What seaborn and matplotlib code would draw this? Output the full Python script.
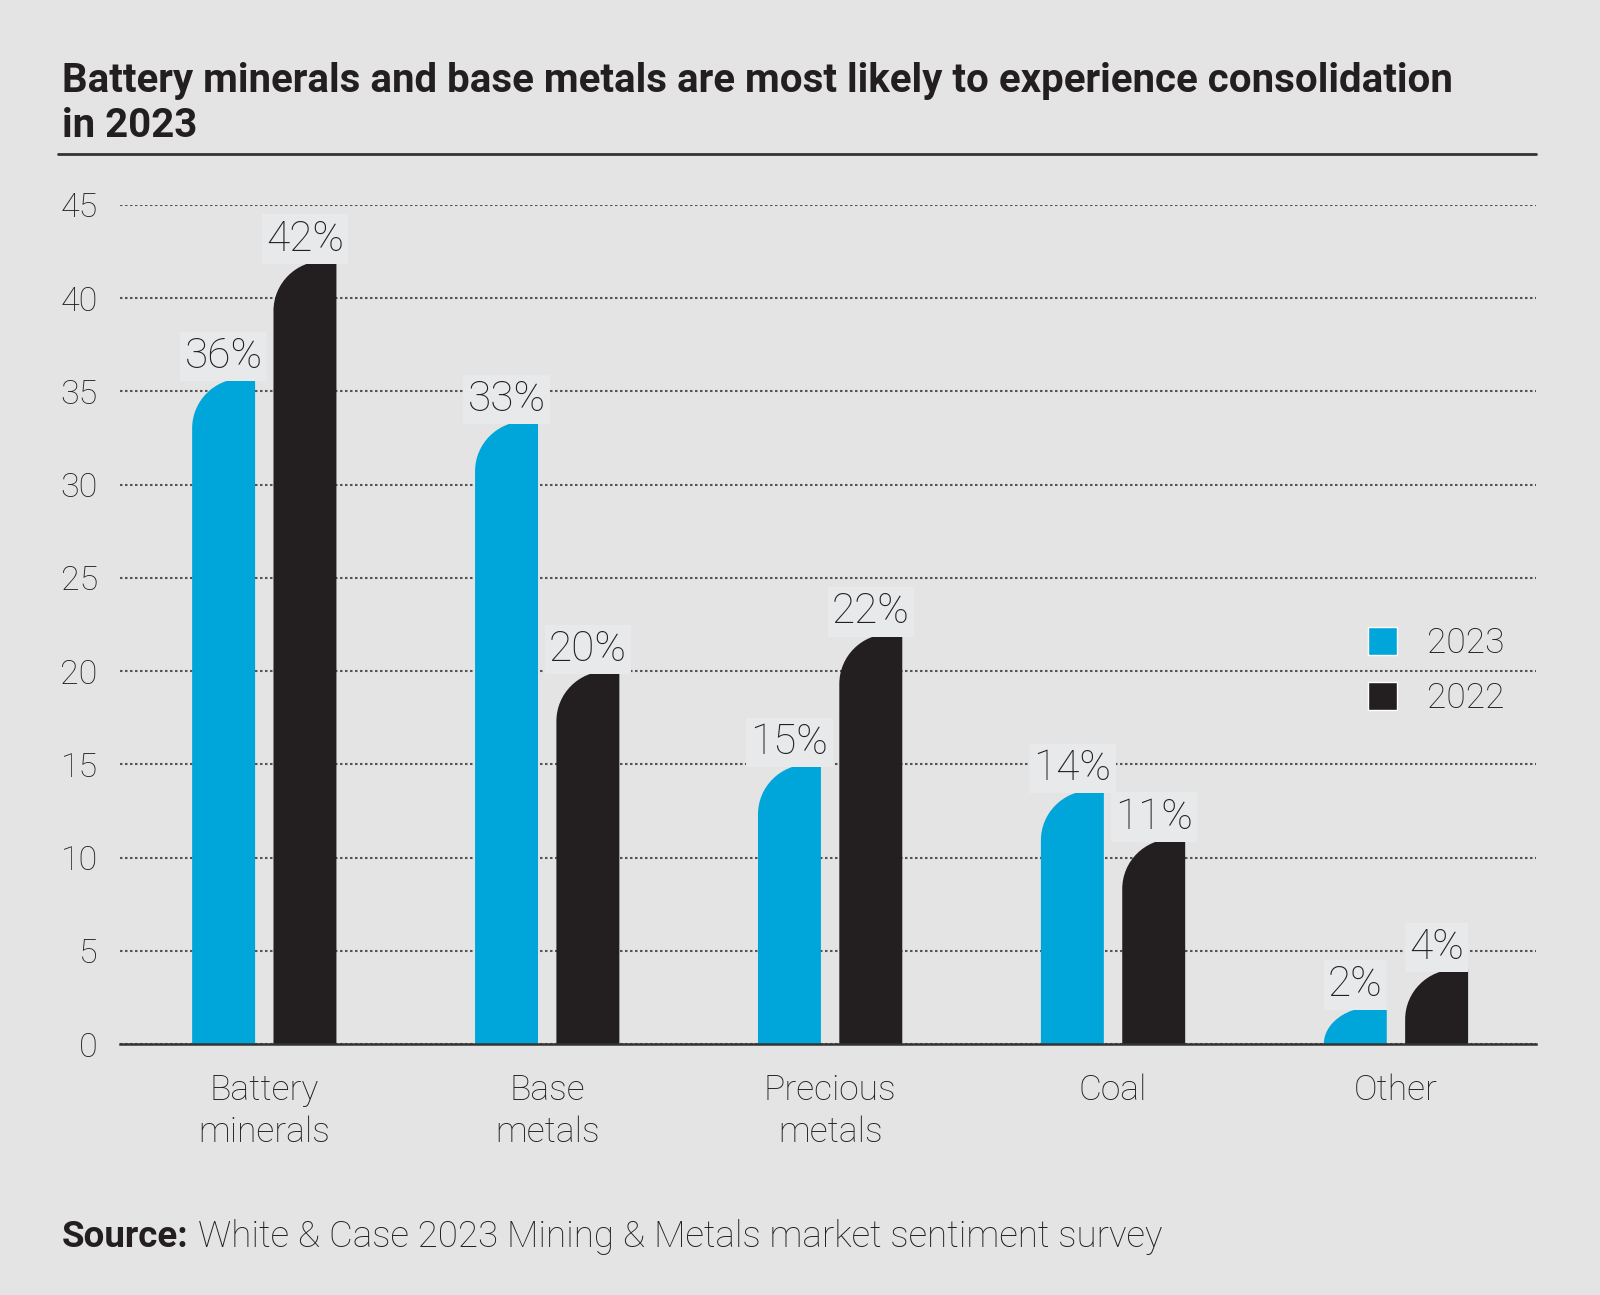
import numpy as np
import pandas as pd
import seaborn as sns
import matplotlib.pyplot as plt
from matplotlib.path import Path
from matplotlib.patches import PathPatch
from matplotlib.lines import Line2D

categories = ["Battery\nminerals", "Base\nmetals", "Precious\nmetals", "Coal", "Other"]
years = ["2023", "2022"]
values_2023 = [35.7, 33.4, 15, 13.6, 2]
values_2022 = [42, 20, 22, 11, 4]

BG = "#e4e4e4"
BOX = "#e8e9eb"
INK = "#231f20"
palette = {"2023": "#00a6d9", "2022": "#231f20"}

df = pd.DataFrame({
    "category": categories * 2,
    "year": ["2023"] * len(categories) + ["2022"] * len(categories),
    "value": values_2023 + values_2022,
})

sns.set_theme(style="white")
plt.rcParams["font.family"] = ["Roboto", "DejaVu Sans"]

fig = plt.figure(figsize=(16, 12.95), dpi=100, facecolor=BG)
ax = fig.add_axes([0.075, 0.1938, 0.885, 0.6479])
ax.set_facecolor(BG)

sns.barplot(data=df, x="category", y="value", hue="year", hue_order=years,
            order=categories, palette=palette, width=0.575, gap=0.226,
            saturation=1, ax=ax, zorder=3)

ax.set_ylim(0, 45)
ax.set_xlim(-0.51, 4.495)

# rounded top-left corner on every bar
px_per_unit = (ax.get_window_extent().height) / 45
ry_max = 50 / px_per_unit
bars = [p for p in ax.patches if p.get_height() > 0]
for p in bars:
    x, y, w, h = p.get_x(), p.get_y(), p.get_width(), p.get_height()
    rx = 0.8 * w
    ry = min(ry_max, h)
    k = 0.5523
    verts = [(x, y), (x, y + h - ry),
             (x, y + h - ry + k * ry), (x + rx - k * rx, y + h), (x + rx, y + h),
             (x + w, y + h), (x + w, y), (x, y)]
    codes = [Path.MOVETO, Path.LINETO, Path.CURVE4, Path.CURVE4, Path.CURVE4,
             Path.LINETO, Path.LINETO, Path.CLOSEPOLY]
    ax.add_patch(PathPatch(Path(verts, codes), facecolor=p.get_facecolor(),
                           edgecolor="none", zorder=3))
    p.set_visible(False)
    ax.annotate(f"{round(h):d}%", (x + w / 2, y + h), xytext=(0, 1),
                textcoords="offset points", ha="center", va="bottom",
                fontsize=30.5, fontweight="light", color=INK, zorder=5,
                bbox=dict(boxstyle="square,pad=0.1", fc=BOX, ec="none"))

ax.set_xlabel("")
ax.set_ylabel("")
ax.set_yticks(range(0, 50, 5))
ax.tick_params(axis="y", length=0, pad=16, labelsize=24.5, labelcolor=INK)
ax.tick_params(axis="x", length=0, pad=21, labelsize=25.5, labelcolor=INK)
for lab in ax.get_xticklabels() + ax.get_yticklabels():
    lab.set_fontweight("light")
    lab.set_linespacing(1.32)

ax.yaxis.grid(True, linestyle=(0, (1.2, 1.2)), color="#555555", linewidth=1.5)
ax.set_axisbelow(True)
for s in ["left", "right", "top"]:
    ax.spines[s].set_visible(False)
ax.spines["bottom"].set_color("#333333")
ax.spines["bottom"].set_linewidth(1.8)
ax.spines["bottom"].set_zorder(4)

handles, labels = ax.get_legend_handles_labels()
leg = ax.legend(handles, labels, loc="center left",
                bbox_to_anchor=(1350 / 1600, 1 - 671 / 1295),
                bbox_transform=fig.transFigure, frameon=False,
                fontsize=25.5, handlelength=0.82, handleheight=0.82,
                handletextpad=0.85, labelspacing=0.62, borderpad=0)
for t in leg.get_texts():
    t.set_color(INK)
    t.set_fontweight("light")

fig.text(62 / 1600, 1 - 81 / 1295,
         "Battery minerals and base metals are most likely to experience consolidation",
         fontsize=29, fontweight="bold", color=INK, va="center", ha="left")
fig.text(62 / 1600, 1 - 126 / 1295, "in 2023",
         fontsize=29, fontweight="bold", color=INK, va="center", ha="left")
fig.add_artist(Line2D([58 / 1600, 1536 / 1600], [1 - 154 / 1295] * 2,
                      color="#333333", linewidth=2))

src = fig.text(62 / 1600, 1 - 1237 / 1295, "Source:", fontsize=26.5,
               fontweight="bold", color=INK, va="center", ha="left")
fig.canvas.draw()
bb = src.get_window_extent().transformed(fig.transFigure.inverted())
fig.text(bb.x1 + 9 / 1600, 1 - 1237 / 1295,
         "White & Case 2023 Mining & Metals market sentiment survey",
         fontsize=26.5, fontweight="light", color=INK, va="center", ha="left")

fig.savefig("out.png", dpi=100, facecolor=BG)
